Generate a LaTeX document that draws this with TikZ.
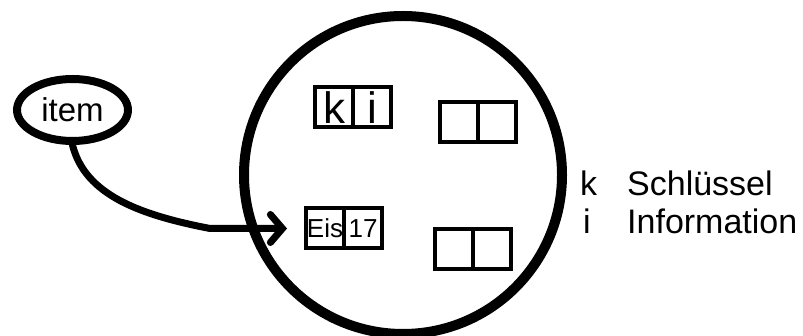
\documentclass[tikz,border=0pt]{standalone}
\usepackage{fontspec}
\setmainfont{Liberation Sans}
\usepackage{tikz}
\usetikzlibrary{arrows.meta,positioning,shapes.geometric}
\tikzset{
  cell/.style={draw,line width=4pt,minimum width=38pt,minimum height=40pt,
    inner sep=0pt,outer sep=0pt},
  big/.style={font=\fontsize{44}{46}\selectfont},
  small/.style={font=\fontsize{26}{28}\selectfont},
  legend/.style={font=\fontsize{34}{38}\selectfont,anchor=base west,inner sep=0pt},
  conn/.style={line width=7pt,line cap=round,
    -{Straight Barb[length=12pt,width=28pt,line cap=round]}}}
\newcommand{\pair}[5]{%
  \node[cell,#5] (#1a) at (#2) {#3};
  \node[cell,#5,right=0pt of #1a] (#1b) {#4};}

\begin{document}
\begin{tikzpicture}[x=1pt,y=-1pt]
  \useasboundingbox (0,0) rectangle (803,336);
  % the store
  \node[draw,circle,line width=10pt,minimum size=318pt,inner sep=0pt] (store) at (403,175) {};
  \pair{ki}{334,107.5}{k}{i}{big}
  \pair{top}{459,122}{}{}{}
  \pair{eis}{325,228.5}{Eis}{17}{small}
  \pair{bot}{454,249}{}{}{}
  % the item
  \node[draw,ellipse,line width=8pt,minimum width=111pt,minimum height=62pt,
    inner sep=0pt,font=\fontsize{33}{36}\selectfont] (item) at (72.5,110) {item};
  \draw[conn,shorten >=19pt] (item.south) .. controls (85,195) and (140,215) .. (210,228.5) -- (eisa.west);
  % legend
  \node[legend] (kl) at (580,196) {k};
  \node[legend] (kt) at (627,196) {Schlüssel};
  \node[legend] (il) at (583,234) {i};
  \node[legend] (it) at (627,234) {Information};
\end{tikzpicture}
\end{document}
